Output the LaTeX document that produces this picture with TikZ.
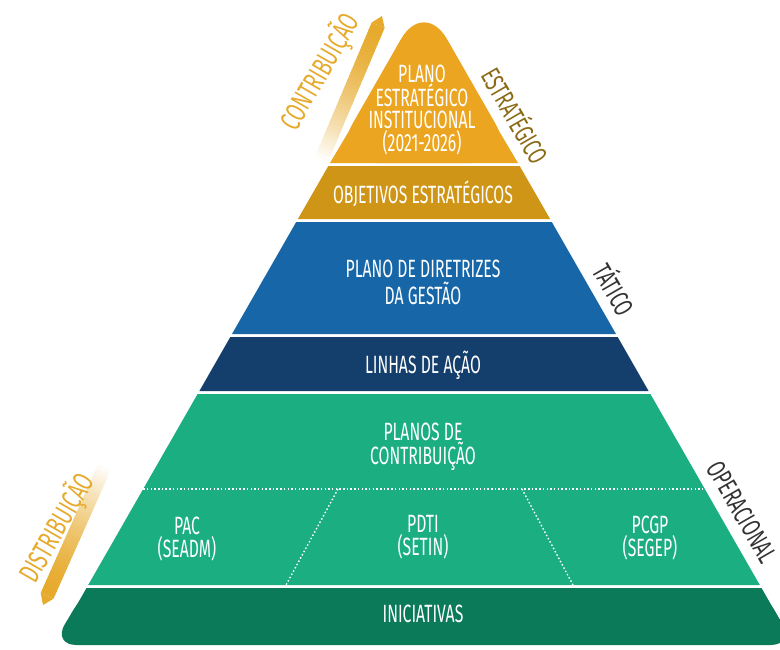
\documentclass[tikz,border=0pt]{standalone}
\usepackage{fontspec}
\usepackage{xcolor}
\usepackage{tikz}
\usetikzlibrary{calc}
\newfontfamily\condfont[FakeStretch=0.63]{Fira Sans}
\newfontfamily\sidefont[FakeStretch=0.66]{Fira Sans}
\definecolor{topgold}{HTML}{EBA520}
\definecolor{objgold}{HTML}{CF9517}
\definecolor{midblue}{HTML}{1767A8}
\definecolor{navy}{HTML}{143F6C}
\definecolor{opgreen}{HTML}{1BAE81}
\definecolor{dkgreen}{HTML}{0B7A58}
\definecolor{sidegray}{HTML}{333333}
\definecolor{estrgold}{HTML}{8A6A14}
\definecolor{labgold}{HTML}{E6AA2C}

\begin{document}
\begin{tikzpicture}[x=1pt, y=-1pt,
    lvl/.style={text=white, align=center, inner sep=0pt, font=\condfont\fontsize{25}{22.5}\selectfont},
    side/.style={inner sep=0pt, text=sidegray, rotate=-60, font=\sidefont\fontsize{27}{27}\selectfont},
    lside/.style={inner sep=0pt, text=labgold, rotate=60, font=\sidefont\fontsize{29}{29}\selectfont},
    sep/.style={white, line width=1.4pt, dash pattern=on 1.5pt off 2.2pt}]
  \useasboundingbox (0,0) rectangle (780,649);

  % levels of the pyramid
  \fill[topgold, rounded corners=46] (330,163) -- (424,-1) -- (518,163) -- cycle;
  \fill[topgold] (330,163) -- (367.4,100) -- (480.6,100) -- (518,163) -- cycle;
  \fill[objgold] (328.3,166) -- (519.7,166) -- (550.1,219) -- (297.9,219) -- cycle;
  \fill[midblue] (296.2,222) -- (551.8,222) -- (616.0,334) -- (232.0,334) -- cycle;
  \fill[navy] (230.3,337) -- (617.7,337) -- (648.6,391) -- (199.4,391) -- cycle;
  \fill[opgreen] (197.6,394) -- (650.4,394) -- (759.8,585) -- (88.2,585) -- cycle;
  \fill[dkgreen, rounded corners=24] (86.5,588) -- (761.5,588) -- (794.6,645) -- (52.4,645) -- cycle;
  \fill[dkgreen] (86.5,588) -- (761.5,588) -- (779.8,620) -- (68.2,620) -- cycle;

  % dotted split of the green level
  \coordinate (hl) at (143.2,489);
  \coordinate (hr) at (704.8,489);
  \coordinate (s1t) at (338,489);
  \coordinate (s1b) at (286,585);
  \coordinate (s2t) at (522,489);
  \coordinate (s2b) at (573,585);
  \draw[sep] (hl) -- (hr);
  \draw[sep] (s1t) -- (s1b);
  \draw[sep] (s2t) -- (s2b);

  % fading stripes
  \coordinate (ctip) at (382,16);
  \coordinate (c1a) at (384.6,27.9);
  \coordinate (c2a) at (371.7,22.5);
  \coordinate (c1b) at (328.4,160.7);
  \coordinate (c2b) at (315.6,155.3);
  \coordinate (dtip) at (43,605);
  \coordinate (d1a) at (53.5,598.7);
  \coordinate (d2a) at (40.7,593.0);
  \coordinate (d1b) at (110.4,470.9);
  \coordinate (d2b) at (97.6,465.2);
  \fill[labgold] (ctip) -- (c1a) -- (c2a) -- cycle;
  \fill[labgold] (dtip) -- (d1a) -- (d2a) -- cycle;
  \foreach \i in {0,...,39}{
    \pgfmathsetmacro\fa{\i/40}
    \pgfmathsetmacro\fb{(\i+1.3)/40}
    \pgfmathsetmacro\pc{100*(1-\fa^1.6)}
    \fill[labgold!\pc!white] ($(c1a)!\fa!(c1b)$) -- ($(c1a)!\fb!(c1b)$)
      -- ($(c2a)!\fb!(c2b)$) -- ($(c2a)!\fa!(c2b)$) -- cycle;
    \fill[labgold!\pc!white] ($(d1a)!\fa!(d1b)$) -- ($(d1a)!\fb!(d1b)$)
      -- ($(d2a)!\fb!(d2b)$) -- ($(d2a)!\fa!(d2b)$) -- cycle;
  }

  % level texts
  \node[lvl] (pei) at (422,110) {PLANO\\ESTRATÉGICO\\INSTITUCIONAL\\(2021-2026)};
  \node[lvl] (obj) at (423,194) {OBJETIVOS ESTRATÉGICOS};
  \node[lvl, font=\condfont\fontsize{25}{27}\selectfont] (pdg) at (423,282) {PLANO DE DIRETRIZES\\DA GESTÃO};
  \node[lvl] (lin) at (423,365) {LINHAS DE AÇÃO};
  \node[lvl] (pcon) at (423,447) {PLANOS DE\\CONTRIBUIÇÃO};
  \node[lvl] (pac) at (187,539) {PAC\\(SEADM)};
  \node[lvl] (pdti) at (423,537) {PDTI\\(SETIN)};
  \node[lvl] (pcgp) at (650,538) {PCGP\\(SEGEP)};
  \node[lvl] (ini) at (423,614) {INICIATIVAS};

  % side labels
  \node[side, text=estrgold] (estr) at (517,115) {ESTRATÉGICO};
  \node[side] (tat) at (616,289) {TÁTICO};
  \node[side] (oper) at (742,512) {OPERACIONAL};
  \node[lside] (contr) at (320,72) {CONTRIBUIÇÃO};
  \node[lside] (distr) at (57,528) {DISTRIBUIÇÃO};
\end{tikzpicture}
\end{document}
